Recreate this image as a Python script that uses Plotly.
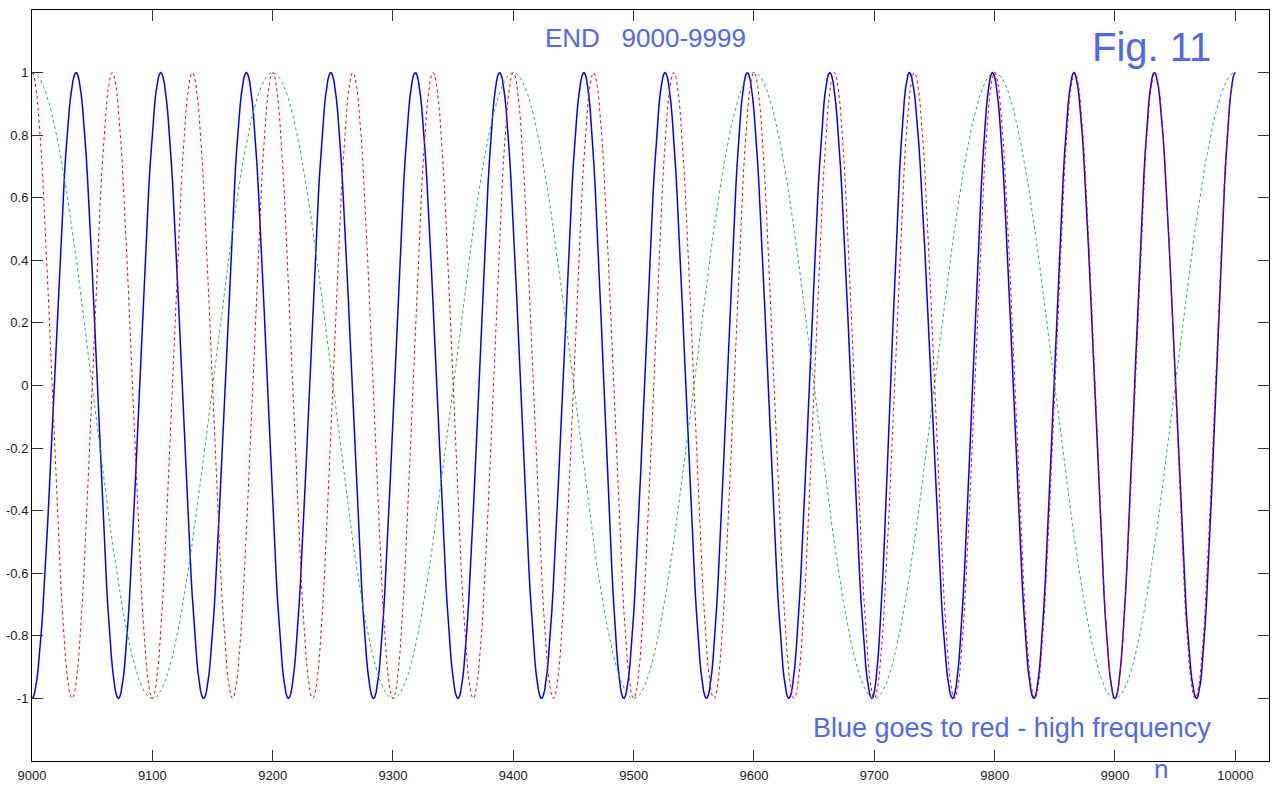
import numpy as np
import plotly.graph_objects as go

# Sample index shown on the x axis
n_start, n_stop = 9000, 10000

# Extremum positions (sample index) of each curve, alternating trough/peak or peak/trough
blue_extrema = [9000, 9036.7, 9071.8, 9107.0, 9142.6, 9178.2, 9213.1, 9248.3, 9283.8,
                9318.5, 9354.0, 9388.6, 9423.4, 9458.7, 9491.8, 9526.1, 9560.5, 9594.5,
                9629.0, 9663.0, 9698.0, 9729.1, 9765.1, 9798.2, 9832.6, 9865.9, 9900.0,
                9932.7, 9967.8, 10000]
blue_first = -1.0

red_extrema = [9000, 9033.3, 9066.7, 9100, 9133.3, 9166.7, 9200, 9233.3, 9266.7, 9300,
               9333.3, 9366.7, 9400, 9433.3, 9466.7, 9500, 9533.3, 9566.7, 9600, 9633.3,
               9666.7, 9700, 9733.3, 9766.7, 9800, 9833.3, 9866.7, 9900, 9933.3, 9966.7,
               10000]
red_first = 1.0

green_extrema = [9000, 9100, 9200, 9300, 9400, 9500, 9600, 9700, 9800, 9900, 10000]
green_first = 1.0

y_tick_vals = [-1, -0.8, -0.6, -0.4, -0.2, 0, 0.2, 0.4, 0.6, 0.8, 1]
y_tick_text = ["-1", "-0.8", "-0.6", "-0.4", "-0.2", "0", "0.2", "0.4", "0.6", "0.8", "1"]
x_tick_vals = [9000, 9100, 9200, 9300, 9400, 9500, 9600, 9700, 9800, 9900, 10000]


def wave(extrema, first, n):
    """Half-cosine arcs joining successive extrema of alternating sign."""
    ext = np.asarray(extrema, float)
    vals = first * (-1.0) ** np.arange(len(ext))
    idx = np.clip(np.searchsorted(ext, n, side="right") - 1, 0, len(ext) - 2)
    t = (n - ext[idx]) / (ext[idx + 1] - ext[idx])
    return vals[idx] * np.cos(np.pi * t)


n = np.arange(n_start, n_stop + 1, dtype=float)
blue = wave(blue_extrema, blue_first, n)
red = wave(red_extrema, red_first, n)
green = wave(green_extrema, green_first, n)

fig = go.Figure()
fig.add_trace(go.Scatter(x=n, y=blue, mode="lines",
                         line=dict(color="#0000ff", width=1.5)))
fig.add_trace(go.Scatter(x=n, y=green, mode="lines",
                         line=dict(color="#2bb04a", width=1, dash="dot")))
fig.add_trace(go.Scatter(x=n, y=red, mode="lines",
                         line=dict(color="#ff0000", width=1, dash="dot")))

axis_common = dict(showgrid=False, zeroline=False, showline=True, linecolor="#000000",
                   linewidth=1, mirror="ticks", ticks="inside", ticklen=11,
                   tickcolor="#333333", tickwidth=1, automargin=False,
                   tickfont=dict(family="Liberation Sans, Arial", size=13, color="#1a1a1a"))

fig.update_xaxes(range=[9000, 10028], tickvals=x_tick_vals,
                 ticktext=[str(v) for v in x_tick_vals], ticklabelstandoff=2,
                 **axis_common)
fig.update_yaxes(range=[-1.2, 1.2], tickvals=y_tick_vals, ticktext=y_tick_text,
                 **axis_common)

text_color = "#5068f0"
font_family = "Liberation Sans, Arial"
fig.add_annotation(text="END   9000-9999", xref="paper", yref="paper", x=0.496, y=0.963,
                   showarrow=False, xanchor="center", yanchor="middle",
                   font=dict(family=font_family, size=26, color=text_color))
fig.add_annotation(text="Fig. 11", xref="paper", yref="paper", x=0.905, y=0.951,
                   showarrow=False, xanchor="center", yanchor="middle",
                   font=dict(family=font_family, size=40, color=text_color))
fig.add_annotation(text="Blue goes to red - high frequency", xref="paper", yref="paper",
                   x=0.792, y=0.044, showarrow=False, xanchor="center", yanchor="middle",
                   font=dict(family=font_family, size=27, color=text_color))
# axis name sits in the bottom margin, its box resting on the lower page edge
fig.add_annotation(text="n", xref="paper", yref="paper", x=0.9127, y=-0.0333,
                   showarrow=False, xanchor="center", yanchor="bottom",
                   font=dict(family=font_family, size=26, color=text_color))

fig.update_layout(width=1278, height=786, showlegend=False,
                  paper_bgcolor="white", plot_bgcolor="white",
                  margin=dict(l=32, r=9, t=10, b=25))

fig.write_html("out.html")
